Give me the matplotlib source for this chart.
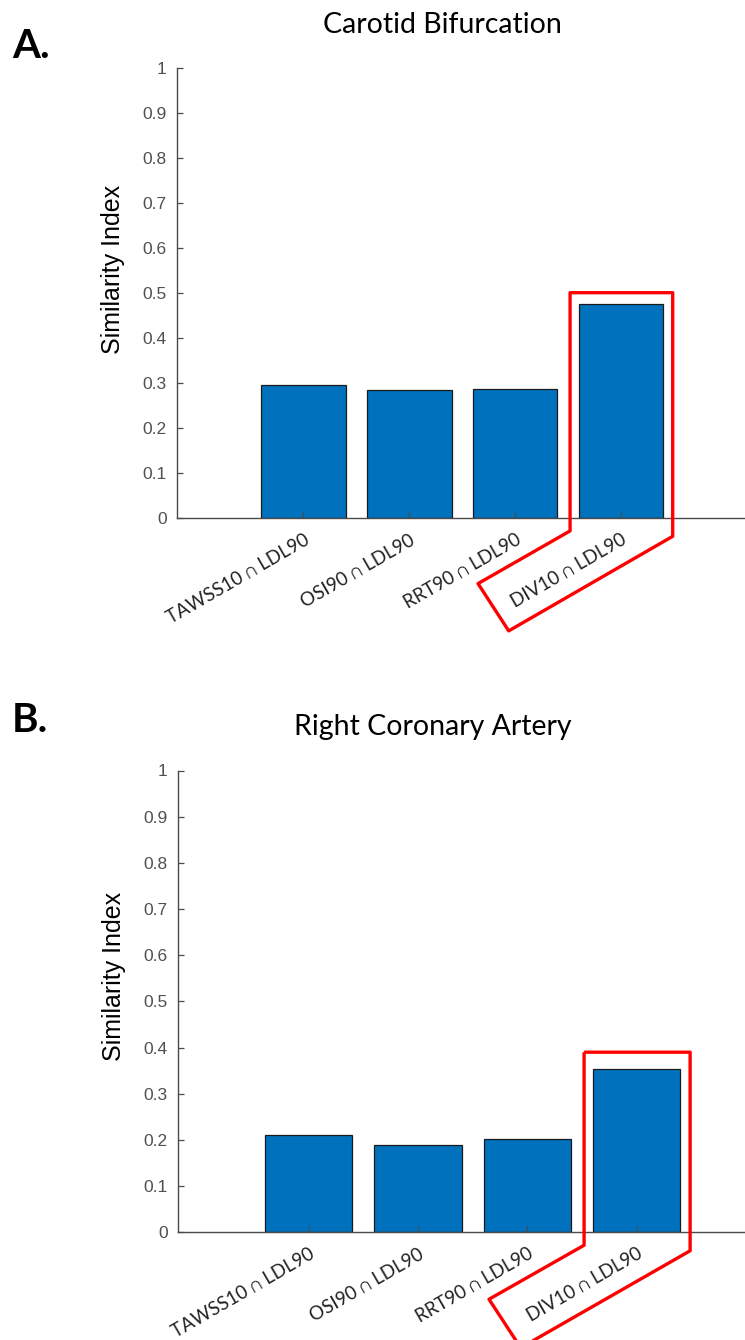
import matplotlib
matplotlib.use("Agg")
import matplotlib.pyplot as plt
from matplotlib.patches import Polygon
from matplotlib.transforms import ScaledTranslation

# data
categories = ["TAWSS10 \u2229 LDL90", "OSI90 \u2229 LDL90", "RRT90 \u2229 LDL90", "DIV10 \u2229 LDL90"]
carotid_values = [0.297, 0.284, 0.288, 0.476]
rca_values = [0.210, 0.190, 0.203, 0.353]
panel_titles = ["Carotid Bifurcation", "Right Coronary Artery"]
panel_letters = ["A.", "B."]
highlight_index = 3
yticks = [0, 0.1, 0.2, 0.3, 0.4, 0.5, 0.6, 0.7, 0.8, 0.9, 1]

bar_color = "#0072BD"
axis_gray = "#4a4a4a"
calibri_like = ["Lato", "DejaVu Sans"]
arial_like = ["Liberation Sans", "DejaVu Sans"]

W, H = 745, 1340
fig = plt.figure(figsize=(W / 100, H / 100), dpi=100)

# axes boxes in pixels: left, axis-zero y, axis-top y, px per category
panels = [
    dict(values=carotid_values, left=176.5, y0=518.3, y1=68.0, unit=105.8,
         title_xy=(442, 25), letter_xy=(12, 47), top_pad=0.025),
    dict(values=rca_values, left=177.5, y0=1232.3, y1=770.5, unit=109.3,
         title_xy=(433, 727), letter_xy=(12, 720), top_pad=0.037),
]

xlim = (-0.2, 5.5)

for p, title, letter in zip(panels, panel_titles, panel_letters):
    width_px = (xlim[1] - xlim[0]) * p["unit"]
    ax = fig.add_axes([p["left"] / W, (H - p["y0"]) / H,
                       width_px / W, (p["y0"] - p["y1"]) / H])
    pos = list(range(1, len(categories) + 1))
    ax.bar(pos, p["values"], width=0.8, color=bar_color,
           edgecolor="#1a1a1a", linewidth=0.9, zorder=1)

    ax.set_xlim(*xlim)
    ax.set_ylim(0, 1)
    ax.set_yticks(yticks)
    ax.set_yticklabels(["%g" % t for t in yticks], family=arial_like,
                       fontsize=12.5, color="#505050")
    ax.set_xticks(pos)
    ax.set_xticklabels(categories, rotation=30, ha="right", va="top",
                       rotation_mode="anchor", family=calibri_like,
                       fontsize=13.5, color="#222222")
    shift = ScaledTranslation(5 / 100, 0, fig.dpi_scale_trans)
    for lab in ax.get_xticklabels():
        lab.set_transform(lab.get_transform() + shift)

    for side in ["top", "right"]:
        ax.spines[side].set_visible(False)
    for side in ["left", "bottom"]:
        ax.spines[side].set_color(axis_gray)
        ax.spines[side].set_linewidth(1.0)
    ax.tick_params(axis="both", direction="in", length=4, width=0.9,
                   color=axis_gray)
    ax.tick_params(axis="x", pad=9)
    ax.tick_params(axis="y", pad=7)

    ax.set_ylabel("Similarity Index", family=arial_like, fontsize=18)
    ax.yaxis.set_label_coords(-51 / width_px, 0.553)

    # red outline around the highlighted bar and its label
    c = pos[highlight_index]
    top = p["values"][highlight_index] + p["top_pad"]
    outline = [
        (c - 0.48, top), (c + 0.49, top), (c + 0.49, -0.04),
        (c - 1.06, -0.25), (c - 1.35, -0.145), (c - 0.48, -0.028),
    ]
    ax.add_patch(Polygon(outline, closed=True, fill=False, edgecolor="#ff0000",
                         linewidth=2.4, clip_on=False, zorder=5,
                         joinstyle="round"))

    fig.text(p["title_xy"][0] / W, 1 - p["title_xy"][1] / H, title,
             ha="center", va="center", family=calibri_like, fontsize=20.5)
    fig.text(p["letter_xy"][0] / W, 1 - p["letter_xy"][1] / H, letter,
             ha="left", va="center", family=calibri_like, fontsize=29,
             fontweight="bold")

fig.savefig("out.png", dpi=100)
